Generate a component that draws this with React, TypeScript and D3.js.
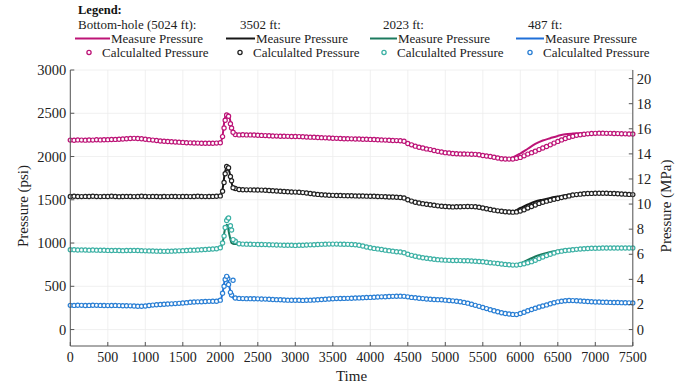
import React from 'react';
import * as d3 from 'd3';

// ---------- data ----------
const measTime = [0, 250, 500, 750, 1000, 1250, 1500, 1750, 1950, 2000, 2030, 2060, 2090, 2120, 2150, 2180, 2220, 2300, 2500, 2750, 3000, 3250, 3500, 3750, 4000, 4250, 4400, 4500, 4600, 4750, 5000, 5250, 5500, 5650, 5800, 5900, 6000, 6100, 6200, 6300, 6400, 6500, 6600, 6700, 6800, 7000, 7250, 7500];

const measPink = [2188, 2191, 2195, 2208, 2200, 2172, 2163, 2154, 2153, 2158, 2240, 2440, 2490, 2460, 2340, 2270, 2255, 2252, 2246, 2237, 2231, 2225, 2212, 2205, 2198, 2189, 2181, 2150, 2120, 2090, 2045, 2029, 2012, 1995, 1970, 1990, 2035, 2090, 2145, 2185, 2212, 2238, 2258, 2265, 2268, 2270, 2265, 2258];
const measBlack = [1538, 1538, 1539, 1538, 1538, 1537, 1538, 1538, 1540, 1545, 1620, 1810, 1880, 1830, 1700, 1625, 1617, 1615, 1613, 1602, 1589, 1566, 1551, 1546, 1541, 1533, 1527, 1500, 1472, 1448, 1422, 1421, 1405, 1380, 1362, 1365, 1405, 1445, 1480, 1502, 1522, 1538, 1553, 1562, 1570, 1577, 1570, 1560];
const measTeal = [922, 919, 915, 914, 910, 904, 912, 922, 934, 940, 1000, 1150, 1210, 1100, 1000, 990, 988, 987, 984, 977, 973, 981, 988, 983, 945, 912, 892, 868, 845, 826, 802, 796, 783, 768, 752, 745, 765, 805, 845, 875, 898, 913, 925, 933, 937, 940, 942, 942];
const measBlue = [280, 279, 277, 274, 270, 293, 307, 322, 328, 335, 420, 570, 610, 500, 390, 362, 358, 357, 355, 346, 338, 342, 356, 362, 372, 382, 386, 378, 367, 354, 340, 314, 255, 218, 186, 175, 182, 215, 246, 273, 298, 320, 333, 335, 330, 319, 313, 308];

const calcTime = d3.range(0, 7501, 50);
const spikeTime = [2030, 2065, 2085, 2110, 2135, 2170];

const calcPink = [
  2190, 2188, 2192, 2190, 2189, 2191, 2190, 2193, 2192, 2194,
  2195, 2196, 2198, 2200, 2203, 2206, 2208, 2210, 2208, 2205,
  2200, 2195, 2190, 2185, 2180, 2176, 2173, 2170, 2168, 2166,
  2163, 2160, 2158, 2156, 2155, 2154, 2154, 2153, 2153, 2155,
  2160, 2330, 2470, 2330, 2255, 2250, 2252, 2250, 2250, 2248,
  2246, 2244, 2242, 2240, 2238, 2236, 2235, 2234, 2233, 2232,
  2231, 2230, 2228, 2226, 2224, 2222, 2220, 2218, 2216, 2214,
  2212, 2210, 2208, 2206, 2205, 2204, 2203, 2202, 2200, 2199,
  2198, 2196, 2194, 2192, 2190, 2188, 2186, 2184, 2182, 2176,
  2150, 2135, 2120, 2108, 2098, 2088, 2080, 2070, 2060, 2052,
  2045, 2040, 2035, 2032, 2030, 2029, 2028, 2027, 2025, 2020,
  2012, 2006, 2000, 1992, 1983, 1975, 1972, 1970, 1972, 1980,
  1990, 2008, 2028, 2045, 2062, 2080, 2098, 2115, 2135, 2155,
  2175, 2192, 2208, 2222, 2235, 2245, 2252, 2258, 2262, 2266,
  2268, 2270, 2270, 2268, 2268, 2266, 2265, 2264, 2262, 2260,
  2260];
const spikePink = [2230, 2420, 2480, 2465, 2380, 2280];

const calcBlack = [
  1538, 1540, 1538, 1537, 1539, 1538, 1540, 1538, 1537, 1539,
  1538, 1540, 1538, 1536, 1538, 1539, 1538, 1537, 1538, 1540,
  1538, 1537, 1539, 1538, 1536, 1538, 1537, 1539, 1538, 1537,
  1538, 1539, 1537, 1538, 1540, 1538, 1537, 1538, 1539, 1540,
  1545, 1700, 1860, 1720, 1630, 1618, 1616, 1615, 1615, 1614,
  1613, 1612, 1610, 1608, 1605, 1602, 1598, 1595, 1592, 1590,
  1589, 1587, 1583, 1578, 1572, 1566, 1562, 1558, 1555, 1553,
  1551, 1550, 1549, 1548, 1547, 1546, 1545, 1544, 1543, 1542,
  1541, 1540, 1538, 1537, 1535, 1533, 1532, 1530, 1527, 1520,
  1500, 1485, 1472, 1463, 1455, 1448, 1442, 1436, 1430, 1426,
  1422, 1420, 1418, 1419, 1420, 1421, 1422, 1421, 1420, 1413,
  1405, 1396, 1388, 1380, 1372, 1367, 1362, 1358, 1357, 1360,
  1370, 1385, 1405, 1422, 1440, 1458, 1472, 1484, 1495, 1505,
  1514, 1525, 1535, 1545, 1555, 1560, 1565, 1569, 1572, 1574,
  1575, 1576, 1576, 1575, 1574, 1572, 1570, 1567, 1565, 1562,
  1560];
const spikeBlack = [1600, 1800, 1885, 1870, 1770, 1640];

const calcTeal = [
  923, 922, 920, 921, 919, 918, 920, 918, 917, 916,
  915, 914, 915, 913, 912, 914, 913, 915, 914, 912,
  910, 909, 908, 906, 905, 904, 905, 906, 908, 910,
  912, 914, 916, 918, 920, 922, 925, 928, 931, 934,
  945, 1080, 1280, 1150, 1020, 992, 988, 987, 986, 985,
  984, 983, 982, 980, 979, 977, 976, 975, 974, 974,
  973, 974, 975, 977, 979, 981, 983, 985, 987, 988,
  988, 988, 987, 986, 985, 983, 981, 975, 965, 955,
  945, 938, 932, 925, 918, 912, 906, 900, 896, 888,
  870, 858, 848, 838, 830, 824, 818, 812, 808, 805,
  802, 800, 799, 798, 797, 796, 795, 793, 790, 787,
  783, 778, 773, 768, 763, 758, 753, 749, 745, 745,
  752, 760, 772, 785, 800, 820, 838, 855, 870, 885,
  898, 906, 913, 918, 923, 927, 931, 934, 937, 939,
  940, 941, 942, 942, 942, 943, 943, 942, 942, 942,
  942];
const spikeTeal = [1000, 1180, 1260, 1290, 1200, 1040];

const calcBlue = [
  280, 279, 281, 280, 278, 279, 281, 280, 279, 278,
  277, 278, 279, 277, 276, 275, 274, 272, 270, 269,
  272, 278, 283, 287, 290, 293, 295, 297, 300, 303,
  307, 311, 315, 318, 320, 322, 324, 326, 327, 328,
  340, 500, 590, 400, 365, 360, 358, 357, 357, 356,
  355, 354, 352, 350, 348, 346, 344, 342, 340, 339,
  338, 338, 337, 338, 340, 342, 345, 348, 351, 354,
  356, 358, 359, 360, 361, 362, 364, 366, 368, 370,
  372, 374, 376, 378, 380, 382, 384, 385, 386, 384,
  378, 372, 367, 362, 358, 354, 351, 348, 346, 344,
  340, 336, 332, 328, 322, 314, 305, 293, 280, 268,
  255, 242, 230, 218, 205, 195, 186, 180, 175, 173,
  185, 200, 218, 232, 246, 260, 273, 285, 298, 310,
  320, 328, 333, 336, 335, 333, 330, 327, 324, 321,
  319, 318, 316, 315, 314, 313, 312, 311, 310, 309,
  308];
const spikeBlue = [420, 580, 615, 520, 430, 570];

const xTicks = d3.range(0, 7501, 500);
const yTicksPsi = d3.range(0, 3001, 500);
const yTicksMPa = d3.range(0, 21, 2);

const seriesNames = ['Bottom-hole (5024 ft):', '3502 ft:', '2023 ft:', '487 ft:'];
const lineColors = ['#bd1477', '#161616', '#1c7a5e', '#1f6fd8'];
const markerColors = ['#bd1477', '#222222', '#3db1a5', '#2a7fd4'];
const measSeries = [measPink, measBlack, measTeal, measBlue];
const calcSeries = [calcPink, calcBlack, calcTeal, calcBlue];
const spikeSeries = [spikePink, spikeBlack, spikeTeal, spikeBlue];

const PSI_PER_MPA = 145.038;

export default function App() {
  const W = 686, H = 387;
  const left = 70.3, right = 632.8, top = 70, bottom = 346;
  const yMin = -190;
  const x = d3.scaleLinear().domain([0, 7500]).range([left, right]);
  const y = d3.scaleLinear().domain([yMin, 3000]).range([bottom, top]);
  const y2 = d3.scaleLinear().domain([yMin / PSI_PER_MPA, 3000 / PSI_PER_MPA]).range([bottom, top]);
  const line = d3.line<[number, number]>().x(d => x(d[0])).y(d => y(d[1])).curve(d3.curveMonotoneX);
  const font = 'Liberation Serif, Times New Roman, serif';
  const tc = '#222';
  const ax = '#555';

  const legLabelX = [78, 240, 383, 528];
  const legLineX = [75, 226, 370, 516];
  const legLineLen = [35, 29, 27, 28];

  return (
    <svg width={W} height={H} style={{ position: 'absolute', left: 0, top: 0, background: '#fff' }} fontFamily={font}>
      {/* grid */}
      {xTicks.map(t => (
        <line key={'gx' + t} x1={x(t)} x2={x(t)} y1={top} y2={bottom} stroke="#ececec" strokeWidth={0.8} />
      ))}
      {yTicksPsi.map(t => (
        <line key={'gy' + t} x1={left} x2={right} y1={y(t)} y2={y(t)} stroke="#ececec" strokeWidth={0.8} />
      ))}

      {/* measured lines */}
      {measSeries.map((vals, i) => (
        <path key={'m' + i} d={line(measTime.map((t, j) => [t, vals[j]] as [number, number])) || ''}
          fill="none" stroke={lineColors[i]} strokeWidth={2} />
      ))}

      {/* calculated markers */}
      {calcSeries.map((vals, i) => (
        <g key={'c' + i} stroke={markerColors[i]} fill="#fff" strokeWidth={1.2}>
          {calcTime.map((t, j) => (
            <circle key={j} cx={x(t)} cy={y(vals[j])} r={2.1} />
          ))}
          {spikeTime.map((t, j) => (
            <circle key={'s' + j} cx={x(t)} cy={y(spikeSeries[i][j])} r={2.1} />
          ))}
        </g>
      ))}

      {/* axes */}
      <line x1={left} x2={left} y1={top} y2={bottom} stroke={ax} strokeWidth={1} />
      <line x1={right} x2={right} y1={top} y2={bottom} stroke={ax} strokeWidth={1} />
      <line x1={left} x2={right} y1={bottom} y2={bottom} stroke={ax} strokeWidth={1} />

      {xTicks.map(t => (
        <g key={'xt' + t}>
          <line x1={x(t)} x2={x(t)} y1={bottom} y2={bottom - 4} stroke={ax} />
          <text x={x(t)} y={bottom + 16} textAnchor="middle" fontSize={14} fill={tc}>{t}</text>
        </g>
      ))}
      {yTicksPsi.map(t => (
        <g key={'yt' + t}>
          <line x1={left} x2={left + 4} y1={y(t)} y2={y(t)} stroke={ax} />
          <text x={left - 4} y={y(t) + 5} textAnchor="end" fontSize={14.5} fill={tc}>{t}</text>
        </g>
      ))}
      {yTicksMPa.map(t => (
        <g key={'y2t' + t}>
          <line x1={right - 4} x2={right} y1={y2(t)} y2={y2(t)} stroke={ax} />
          <text x={right + 4} y={y2(t) + 5} textAnchor="start" fontSize={14.5} fill={tc}>{t}</text>
        </g>
      ))}

      <text x={(left + right) / 2} y={381} textAnchor="middle" fontSize={15} fill={tc}>Time</text>
      <text transform="translate(28,206) rotate(-90)" textAnchor="middle" fontSize={15} fill={tc}>Pressure (psi)</text>
      <text transform="translate(671,206) rotate(-90)" textAnchor="middle" fontSize={15} fill={tc}>Pressure (MPa)</text>

      {/* legend */}
      <text x={78} y={14} fontSize={12.5} fontWeight="bold" fill="#111">Legend:</text>
      {seriesNames.map((name, i) => {
        const lx = legLineX[i];
        return (
          <g key={'lg' + i}>
            <text x={legLabelX[i]} y={28.5} fontSize={13} fill={tc}>{name}</text>
            <line x1={lx} x2={lx + legLineLen[i]} y1={38.5} y2={38.5} stroke={lineColors[i]} strokeWidth={2} />
            <text x={lx + legLineLen[i] + 1} y={42.5} fontSize={13} fill={tc}>Measure Pressure</text>
            <circle cx={lx + 14} cy={52.5} r={2.1} fill="#fff" stroke={markerColors[i]} strokeWidth={1.3} />
            <text x={lx + 27} y={56.5} fontSize={13} fill={tc}>Calculalted Pressure</text>
          </g>
        );
      })}
    </svg>
  );
}
